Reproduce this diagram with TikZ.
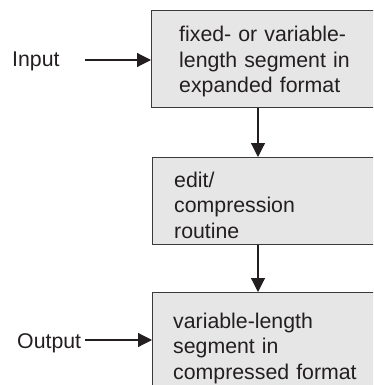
\documentclass[tikz,border=0pt]{standalone}
\usepackage{fontspec}
\setmainfont{Liberation Sans}
\usetikzlibrary{arrows.meta}
\definecolor{boxfill}{HTML}{E6E6E7}
\definecolor{ink}{HTML}{231F20}
\definecolor{boxline}{HTML}{3A3A3C}
\begin{document}
\begin{tikzpicture}[x=1pt,y=-1pt,
  box/.style={draw=boxline, line width=1.4pt, fill=boxfill, minimum width=260pt, anchor=north west, inner sep=0pt},
  lbl/.style={font=\fontsize{21.3}{25.5}\selectfont, text=ink, inner sep=0pt, anchor=base west, text width=190pt, align=left},
  side/.style={font=\fontsize{21.3}{25.5}\selectfont, text=ink, inner sep=0pt, anchor=base west},
  conn/.style={draw=ink, line width=1.2pt, -{Triangle[length=14pt,width=14pt]}}]
\useasboundingbox (0,0) rectangle (373,385);
\clip (0,0) rectangle (373,385);
% boxes
\node[box, minimum height=97pt] (b1) at (151,10) {};
\node[box, minimum height=87pt] (b2) at (152,157) {};
\node[box, minimum height=150pt] (b3) at (152,292) {};
% texts
\node[lbl] (t1) at (179,42) {fixed- or variable-\\length segment in\\expanded format};
\node[lbl] (t2) at (174,187) {edit/\\compression\\routine};
\node[lbl] (t3) at (173,328) {variable-length\\segment in\\compressed format};
\node[side] (inp) at (12,67) {Input};
\node[side] (outp) at (17,348) {Output};
% connectors
\coordinate (inA) at (85,60);
\coordinate (outA) at (85,340);
\draw[conn] (inA) -- (inA -| b1.west);
\draw[conn] (outA) -- (outA -| b3.west);
\draw[conn] ([xshift=107pt]b1.south west) -- ([xshift=106pt]b2.north west);
\draw[conn] ([xshift=106pt]b2.south west) -- ([xshift=106pt]b3.north west);
\end{tikzpicture}
\end{document}
